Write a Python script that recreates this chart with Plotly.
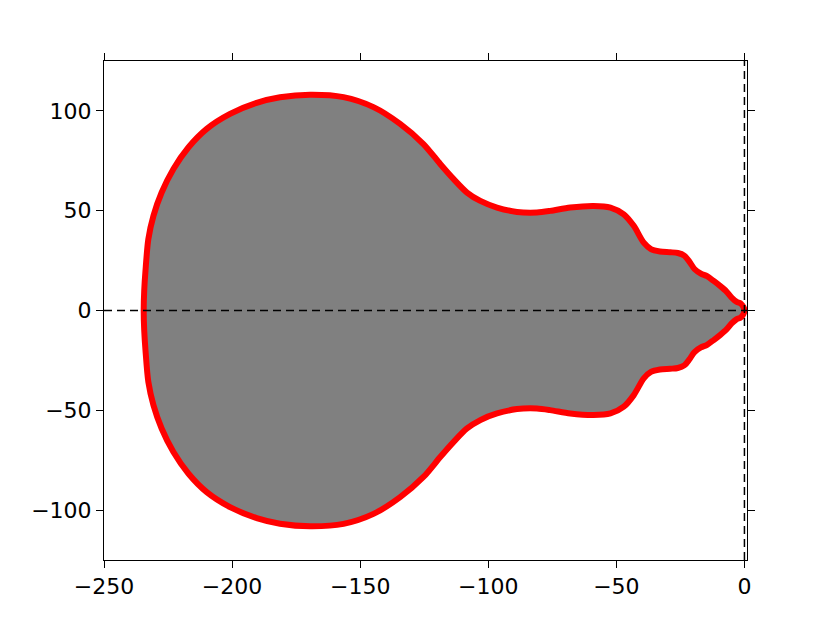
import plotly.graph_objects as go

# upper half of the outline, traced left -> right (lower half is the mirror image)
upper_x = [-234.5, -234.3, -233.8, -232.7, -230.7, -227.5, -222.9, -217, -209.9, -200.8, -190.4, -181.3,
           -169.5, -156.5, -144.8, -134.4, -125.3, -118.75, -113.5, -108.3, -103.1, -96.6, -88.8, -81,
           -75.8, -68, -58.9, -52.3, -47.1, -43.2, -39.3, -36.5, -33, -29, -26, -23.5, -21.5, -19.5, -17,
           -14.6, -12, -9.4, -7, -5, -3, -1.5, -0.4, 0]
upper_y = [0, 10, 20, 35.7, 47.4, 59.1, 70.9, 81.8, 91, 98.5, 104, 106.8,
           108.1, 106.9, 101.9, 93.5, 83.4, 73.4, 65.8, 59.1, 54.9, 51.6, 49.4, 49.1,
           49.9, 51.6, 52.4, 51.6, 48.2, 42.4, 34, 30.8, 29.6, 29.2, 28.8, 27.5, 24.5, 20.8, 18.5,
           17.2, 14.8, 12.2, 9.5, 6.5, 4.3, 3.6, 1.8, 0]
x_ticks = [-250, -200, -150, -100, -50, 0]
y_ticks = [-100, -50, 0, 50, 100]

xs = upper_x + upper_x[::-1][1:]
ys = upper_y + [-v for v in upper_y[::-1][1:]]

fig = go.Figure()
fig.add_trace(go.Scatter(x=xs, y=ys, mode="lines", fill="toself", fillcolor="#808080",
                         line=dict(color="#ff0000", width=6, shape="spline", smoothing=0.8), hoverinfo="skip"))
fig.add_hline(y=0, line=dict(color="black", width=1.5, dash="8px,5px"))
fig.add_vline(x=0, line=dict(color="black", width=1.5, dash="8px,5px"))

ax = dict(showgrid=False, zeroline=False, showline=True, linecolor="black", linewidth=1, mirror="ticks",
          ticks="outside", ticklen=7, tickcolor="black", tickwidth=1, automargin=False,
          tickfont=dict(family="DejaVu Sans", size=22, color="black"))
fig.update_xaxes(range=[-250, 1], tickvals=x_ticks, **ax)
fig.update_yaxes(range=[-125, 125], tickvals=y_ticks, **ax)
fig.update_layout(width=830, height=623, showlegend=False, plot_bgcolor="white", paper_bgcolor="white",
                  margin=dict(l=96, r=91, t=53, b=71))
fig.write_html("out.html")
